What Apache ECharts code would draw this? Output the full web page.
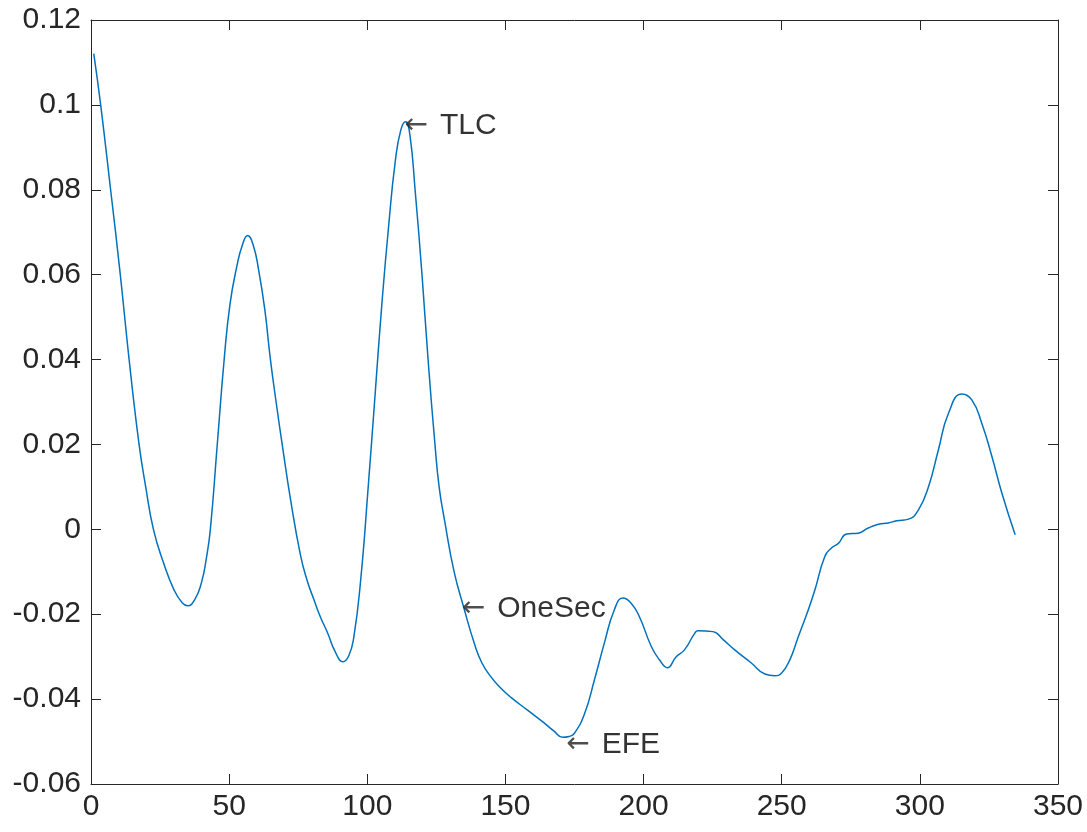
<!DOCTYPE html>
<html>
<head>
<meta charset="utf-8">
<title>Signal trace</title>
<script src="https://cdn.jsdelivr.net/npm/echarts@6/dist/echarts.min.js"></script>
<style>
  html, body { margin: 0; padding: 0; background: #fff; }
  #chart { width: 1087px; height: 832px; }
</style>
</head>
<body>
<div id="chart"></div>
<script>
// Sample positions (x) and signal values (y)
const xs = [1, 3.5, 7.1, 10.6, 13.8, 17.4, 19.8, 22.6, 26.3, 30.0, 33.0, 35.0, 37.6, 40.0, 41.7, 43.2,
  45.7, 48.2, 50.3, 52.8, 54.8, 56.7, 58.7, 60.7, 62.9, 64.9, 67.0, 69.2, 72.2, 75.8, 78.2, 80.6, 83.0,
  85.5, 88.5, 91.2, 93.3, 95.1, 97.6, 100.3, 102.8, 105.3, 107.8, 110.1, 112.1, 113.9, 115.5, 117.3,
  119.8, 122.0, 124.5, 126.0, 128.0, 131.4, 135.0, 138.7, 141.5, 144.7, 148.0, 152.0, 158.0, 164.0,
  167.5, 170.7, 173.0, 174.9, 178.6, 182.2, 185.8, 189.4, 192.5, 195.5, 198.5, 202.8, 205.8, 208.6,
  211.8, 214.8, 218.5, 219.7, 225.1, 228.8, 233.0, 239.0, 243.9, 247.5, 249.9, 252.9, 256.0, 259.6,
  262.0, 265.6, 268.0, 270.5, 273.5, 277.7, 281.3, 285.0, 288.6, 291.6, 295.9, 299.5, 303.1, 306.7,
  310.4, 315.2, 318.8, 322.4, 326.1, 329.7, 334.5];
const ys = [0.1121, 0.1000, 0.0800, 0.0600, 0.0400, 0.0200, 0.0100, 0.0000, -0.0080, -0.0142, -0.0173,
  -0.0180, -0.0165, -0.0125, -0.0070, 0.0000, 0.0200, 0.0400, 0.0530, 0.0620, 0.0670, 0.0692, 0.0670,
  0.0610, 0.0518, 0.0402, 0.0300, 0.0200, 0.0071, -0.0060, -0.0120, -0.0164, -0.0206, -0.0242, -0.0290,
  -0.0312, -0.0298, -0.0255, -0.0120, 0.0097, 0.0315, 0.0533, 0.0720, 0.0865, 0.0940, 0.0960, 0.0925,
  0.0800, 0.0600, 0.0400, 0.0200, 0.0100, 0.0020, -0.0099, -0.0186, -0.0268, -0.0315, -0.0347, -0.0372,
  -0.0396, -0.0426, -0.0456, -0.0475, -0.0490, -0.0488, -0.0481, -0.0435, -0.0355, -0.0268, -0.0190,
  -0.0162, -0.0174, -0.0206, -0.0276, -0.0308, -0.0326, -0.0300, -0.0284, -0.0245, -0.0239, -0.0241,
  -0.0260, -0.0284, -0.0315, -0.0341, -0.0345, -0.0339, -0.0308, -0.0253, -0.0190, -0.0143, -0.0064,
  -0.0044, -0.0033, -0.0011, -0.0009, 0.0003, 0.0012, 0.0015, 0.0020, 0.0024, 0.0046, 0.0100, 0.0187,
  0.0274, 0.0319, 0.0305, 0.0250, 0.0171, 0.0085, -0.0013];

// Annotated events
const eventNames = ['TLC', 'OneSec', 'EFE'];
const eventX = [113.5, 134.2, 172.0];
const eventY = [0.0951, -0.0186, -0.0508];

// Axis ranges and tick spacing
const xRange = [0, 350], xStep = 50;
const yRange = [-0.06, 0.12], yStep = 0.02;

const FONT = '"Liberation Sans", Arial, "DejaVu Sans", sans-serif';
const AX = '#262626';
const FS = 30;

const lineData = xs.map((x, i) => [x, ys[i]]);
const eventData = eventNames.map((n, i) => ({ name: n, value: [eventX[i], eventY[i]] }));

const fmtY = v => String(parseFloat(Number(v).toFixed(2)));

function xAxisDef(pos, showLabel) {
  return {
    type: 'value', position: pos, min: xRange[0], max: xRange[1], interval: xStep,
    axisLine: { show: true, onZero: false, lineStyle: { color: AX, width: 1 } },
    axisTick: { show: true, inside: true, length: 10, lineStyle: { color: AX, width: 1 } },
    axisLabel: { show: showLabel, color: AX, fontSize: FS, fontFamily: FONT, margin: 8 },
    splitLine: { show: false }
  };
}
function yAxisDef(pos, showLabel) {
  return {
    type: 'value', position: pos, min: yRange[0], max: yRange[1], interval: yStep,
    axisLine: { show: true, onZero: false, lineStyle: { color: AX, width: 1 } },
    axisTick: { show: true, inside: true, length: 10, lineStyle: { color: AX, width: 1 } },
    axisLabel: { show: showLabel, color: AX, fontSize: FS, fontFamily: FONT, margin: 10, formatter: fmtY },
    splitLine: { show: false }
  };
}

const chart = echarts.init(document.getElementById('chart'), null, { renderer: 'canvas' });
chart.setOption({
  animation: false,
  backgroundColor: '#ffffff',
  grid: { left: 91, right: 29, top: 20, bottom: 48, containLabel: false },
  xAxis: [xAxisDef('bottom', true), xAxisDef('top', false)],
  yAxis: [yAxisDef('left', true), yAxisDef('right', false)],
  series: [
    {
      type: 'line',
      data: lineData,
      smooth: 0.5,
      showSymbol: false,
      lineStyle: { color: '#0072BD', width: 1.5 },
      z: 2
    },
    {
      type: 'scatter',
      data: eventData,
      symbolSize: 0,
      z: 3,
      label: {
        show: true,
        position: 'right',
        distance: 0,
        color: '#000',
        fontSize: FS,
        fontFamily: FONT,
        formatter: p => '{a|\u2190}' + p.name,
        rich: {
          a: { fontFamily: '"DejaVu Sans", sans-serif', fontSize: 28, color: '#222', padding: [0, 12, 0, 0] }
        }
      }
    }
  ]
});
</script>
</body>
</html>
